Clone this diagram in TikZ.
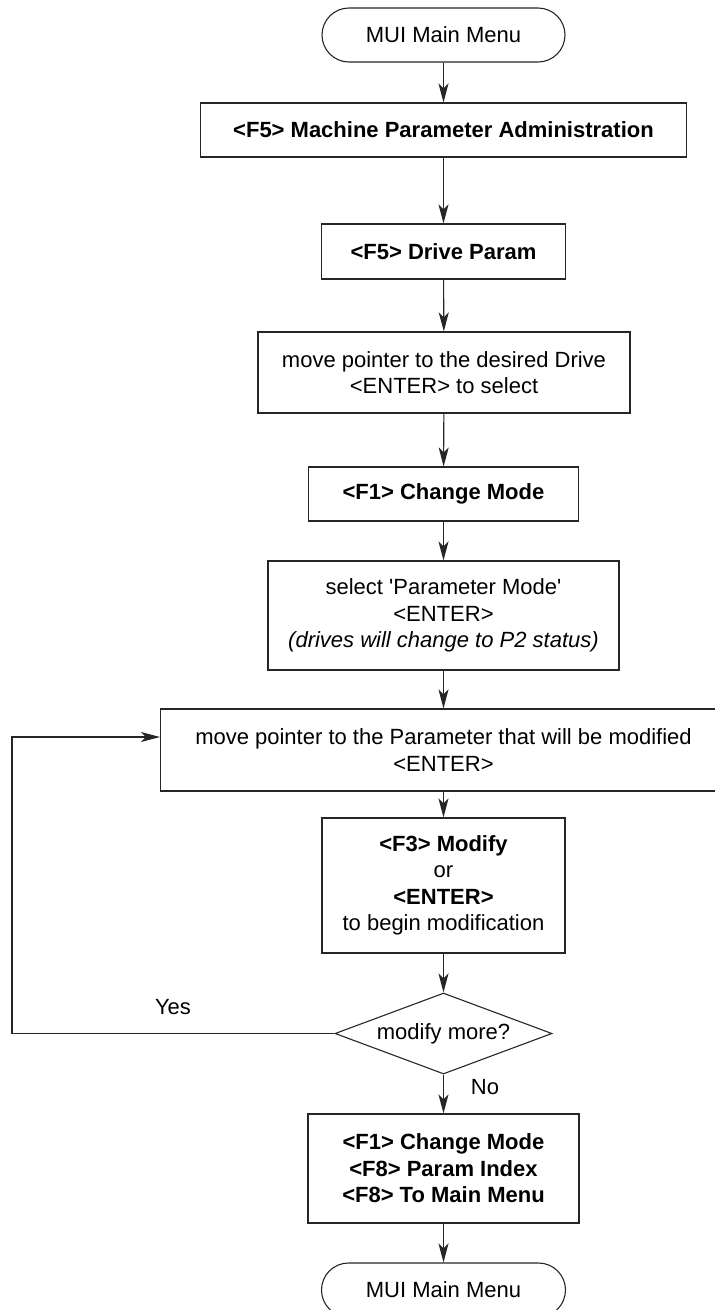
\documentclass[tikz,border=0pt]{standalone}
\usepackage{fontspec}
\setmainfont{Liberation Sans}
\usetikzlibrary{arrows.meta,shapes.geometric}
\begin{document}
\begin{tikzpicture}[x=1pt,y=-1pt,
  every node/.style={font=\fontsize{22}{26.5}\selectfont, align=center, inner sep=0pt},
  box/.style={draw=black!85, line width=1.1pt, rectangle},
  term/.style={box, rounded corners=27pt},
  dec/.style={draw=black!85, line width=1.1pt, diamond, aspect=2.68},
  conn/.style={draw=black!85, line width=1.1pt, -{Stealth[length=19pt,width=10pt,inset=5pt]}},
]
\useasboundingbox (0,0) rectangle (715,1310);
\clip (0,0) rectangle (715,1310);

\node[term, minimum width=243pt, minimum height=54pt] (t1) at (443.5,35) {MUI Main Menu};
\node[box, minimum width=486pt, minimum height=54pt] (b1) at (443.5,130) {\bfseries <F5> Machine Parameter Administration};
\node[box, minimum width=244pt, minimum height=55pt] (b2) at (443.5,251.5) {\bfseries <F5> Drive Param};
\node[box, minimum width=372pt, minimum height=81pt] (b3) at (444,372.5) {move pointer to the desired Drive\\<ENTER> to select};
\node[box, minimum width=270pt, minimum height=54pt] (b4) at (443.5,494) {\bfseries <F1> Change Mode};
\node[box, minimum width=351pt, minimum height=109pt] (b5) at (443.5,615.5) {select \textquotesingle Parameter Mode\textquotesingle\\<ENTER>\\\textit{(drives will change to P2 status)}};
\node[box, minimum width=566pt, minimum height=82pt] (b6) at (443.5,750) {move pointer to the Parameter that will be modified\\<ENTER>};
\node[box, minimum width=243pt, minimum height=135pt] (b7) at (443.5,885.5) {\textbf{<F3> Modify}\\or\\\textbf{<ENTER>}\\to begin modification};
\node[dec, minimum width=217pt, minimum height=81pt] (d) at (443.5,1033.5) {modify more?};
\node[box, minimum width=271pt, minimum height=109pt] (b8) at (443.5,1168.5) {\textbf{<F1> Change Mode}\\\textbf{<F8> Param Index}\\\textbf{<F8> To Main Menu}};
\node[term, minimum width=244pt, minimum height=54pt] (t2) at (443.5,1290) {MUI Main Menu};

\node (yes) at (173,1007) {Yes};
\node (no) at (485,1087) {No};

\draw[conn] (t1) -- (b1);
\draw[conn] (b1) -- (b2);
\draw[conn] (b2) -- (b3);
\draw[conn] (b3) -- (b4);
\draw[conn] (b4) -- (b5);
\draw[conn] (b5) -- (b6);
\draw[conn] (b6) -- (b7);
\draw[conn] (b7) -- (d);
\draw[conn] (d) -- (b8);
\draw[conn] (b8) -- (t2);

\coordinate (lp) at (12,737);
\draw[conn] (d.west) -- (d.west -| lp) -- (lp) -- (lp -| b6.west);
\end{tikzpicture}
\end{document}
